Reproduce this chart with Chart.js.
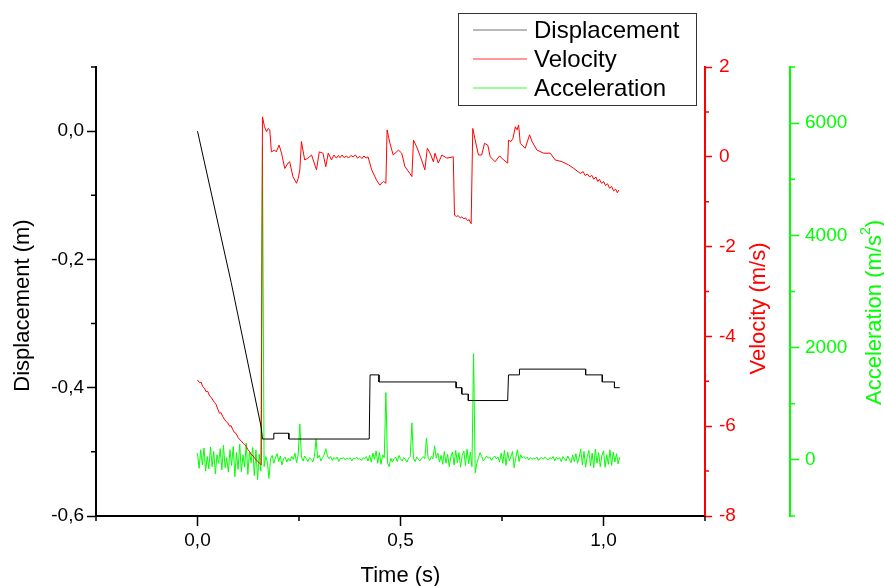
<!DOCTYPE html>
<html><head><meta charset="utf-8">
<script src="https://cdn.jsdelivr.net/npm/chart.js@4.4.1/dist/chart.umd.min.js"></script>
<style>html,body{margin:0;padding:0;background:#fff;}canvas{display:block;}</style>
</head><body>
<canvas id="c" width="884" height="586"></canvas>
<script>
const seriesNames = ['Displacement', 'Velocity', 'Acceleration'];
const axisTitles = ['Time (s)', 'Displacement (m)', 'Velocity (m/s)', 'Acceleration (m/s', '2', ')'];

// Displacement (m)
const dispTime = [0.000, 0.083, 0.157, 0.160, 0.188, 0.188, 0.225, 0.225, 0.423, 0.425, 0.447, 0.447, 0.637, 0.637, 0.651, 0.651, 0.667, 0.667, 0.764, 0.766, 0.793, 0.793, 0.956, 0.956, 0.997, 0.997, 1.027, 1.027, 1.040];
const dispValues = [0.000, -0.236, -0.462, -0.480, -0.480, -0.471, -0.471, -0.480, -0.480, -0.380, -0.380, -0.391, -0.391, -0.400, -0.400, -0.410, -0.410, -0.420, -0.420, -0.380, -0.380, -0.371, -0.371, -0.380, -0.380, -0.391, -0.391, -0.400, -0.400];

// Velocity (m/s)
const velTime = [0.000, 0.005, 0.009, 0.013, 0.017, 0.021, 0.025, 0.030, 0.034, 0.038, 0.042, 0.046, 0.050, 0.054, 0.058, 0.062, 0.066, 0.071, 0.075, 0.079, 0.083, 0.087, 0.091, 0.095, 0.100, 0.104, 0.108, 0.112, 0.116, 0.120, 0.124, 0.128, 0.133, 0.137, 0.141, 0.145, 0.149, 0.153, 0.157,
  0.160, 0.165, 0.170, 0.174, 0.178, 0.182, 0.190, 0.194, 0.201, 0.207, 0.215, 0.223, 0.227, 0.235, 0.244, 0.248, 0.252, 0.256, 0.264, 0.272, 0.281, 0.293, 0.300, 0.309, 0.316, 0.322, 0.330,
  0.336, 0.342, 0.347, 0.351, 0.356, 0.361, 0.367, 0.372, 0.378, 0.383, 0.389, 0.394, 0.400, 0.405, 0.410, 0.415, 0.420,
  0.429, 0.441, 0.449, 0.458, 0.464, 0.467, 0.474, 0.482, 0.495, 0.503, 0.511, 0.523, 0.528, 0.532, 0.540, 0.552, 0.560, 0.566, 0.573, 0.581, 0.585, 0.593, 0.602, 0.614, 0.630,
  0.633, 0.638, 0.642, 0.647, 0.651, 0.656, 0.660, 0.665, 0.669, 0.674,
  0.678, 0.684, 0.692, 0.700, 0.707, 0.715, 0.721, 0.733, 0.744, 0.754, 0.764, 0.766, 0.772, 0.777, 0.783, 0.787, 0.791, 0.795, 0.807, 0.818, 0.824, 0.836, 0.853, 0.869, 0.881, 0.898, 0.914, 0.927,
  0.943, 0.950, 0.955, 0.960, 0.966, 0.971, 0.976, 0.981, 0.986, 0.990, 0.995, 1.000, 1.005, 1.010, 1.015, 1.020, 1.025, 1.030, 1.034, 1.038];
const velValues = [-4.97, -5.03, -5.02, -5.12, -5.15, -5.23, -5.22, -5.33, -5.36, -5.42, -5.47, -5.52, -5.62, -5.71, -5.70, -5.78, -5.84, -5.90, -5.93, -6.00, -5.99, -6.08, -6.14, -6.16, -6.25, -6.30, -6.33, -6.38, -6.41, -6.45, -6.52, -6.56, -6.64, -6.66, -6.72, -6.75, -6.79, -6.83, -6.86,
  0.89, 0.67, 0.56, 0.63, 0.60, 0.11, 0.15, 0.11, 0.26, 0.08, -0.26, -0.14, -0.11, -0.44, -0.59, -0.48, -0.29, 0.34, -0.07, -0.03, 0.04, -0.29, 0.11, 0.08, -0.22, 0.08, -0.07,
  0.04, -0.03, 0.03, -0.02, 0.04, -0.02, 0.02, -0.03, 0.03, 0.00, 0.04, -0.03, 0.01, -0.04, 0.02, -0.03, 0.00,
  -0.29, -0.52, -0.63, -0.55, -0.59, 0.60, 0.30, 0.04, 0.15, 0.08, -0.22, -0.37, -0.44, 0.37, 0.22, -0.07, -0.29, 0.19, 0.08, -0.11, 0.08, -0.14, 0.04, -0.03, 0.00,
  -1.30, -1.33, -1.31, -1.36, -1.34, -1.38, -1.36, -1.42, -1.40, -1.49,
  0.63, 0.37, 0.04, 0.04, 0.30, 0.26, 0.00, -0.11, 0.02, -0.07, -0.14, 0.37, 0.34, 0.41, 0.67, 0.60, 0.71, 0.30, 0.19, 0.49, 0.34, 0.15, 0.08, 0.08, -0.07, -0.11, -0.18, -0.26,
  -0.37, -0.33, -0.42, -0.38, -0.45, -0.41, -0.50, -0.45, -0.55, -0.50, -0.59, -0.55, -0.64, -0.60, -0.70, -0.66, -0.76, -0.72, -0.80, -0.74];

// Acceleration (m/s^2), sampled every accStep seconds from accStart
const accStart = 0.0;
const accStep = 0.004;
const accValues = [
  120, -150, 180, -90, 210, -200, 60, -160, 230, -120,
  150, -250, 90, -60, 200, -180, 260, -140, 40, -220,
  180, -100, 240, -300, 130, -170, 280, -210, 90, -130,
  300, -260, 150, -50, 220, -280, 180, -350, 100, -200,
  5600, -120, 60, -40, -330, 20, 80, -60, 40, 110,
  -30, 70, -90, 20, 50, -40, 30, -20, 60, 10,
  120, -50, 90, 640, 50, -20, 70, 20, -30, 40,
  10, -40, 60, 370, 30, 80, -20, 40, 90, 200,
  70, 20, 60, -10, 40, 10, 50, -30, 30, 20,
  40, 0, 30, 10, 40, -20, 30, 20, 50, 10,
  20, -10, 40, 20, 60, -20, 80, -40, 120, 10,
  160, -60, 130, -80, 90, 40, 1200, -60, -120, 30,
  -40, 20, 50, -30, 80, 20, -20, 40, 10, -40,
  30, 60, 660, 20, -30, 50, 10, -20, 30, 60,
  20, 390, 40, -10, 60, 20, 250, 30, 120, -40,
  80, -80, 150, -60, 100, -120, 60, 140, -90, 170,
  -50, 130, -130, 80, 160, -100, 190, -70, 140, -120,
  1890, -230, -60, 40, 130, 60, -20, 20, 70, 30,
  50, -10, 40, 70, 20, 50, -40, 120, -60, 170,
  -100, 140, -20, 60, 150, -140, 40, 180, -30, 90,
  30, 60, 20, 50, 0, 40, 10, 30, 20, 50,
  -10, 30, 40, 10, 50, 20, 0, 40, 20, 60,
  -20, 50, 10, 40, -30, 60, 20, -20, 70, 10,
  -50, 90, -30, 110, -60, 40, 190, -90, 150, -130,
  60, 170, -110, 120, -140, 190, -60, 130, -120, 80,
  160, -130, 90, -80, 180, -100, 140, -40, 110, -70,
  50];

// Axis ticks
const xMajor = [0, 0.5, 1.0];
const xMinor = [-0.25, 0.25, 0.75, 1.25];
const dispMajor = [-0.6, -0.4, -0.2, 0.0];
const dispMinor = [-0.5, -0.3, -0.1, 0.1];
const velMajor = [-8, -6, -4, -2, 0, 2];
const velMinor = [-7, -5, -3, -1, 1];
const accMajor = [0, 2000, 4000, 6000];
const accMinor = [-1000, 1000, 3000, 5000, 7000];

const RED = '#ff0000', GREEN = '#00ff00', BLACK = '#000000';
const FONT = "'Liberation Sans', Arial, sans-serif";

const dispData = dispTime.map((t, i) => ({x: t, y: dispValues[i]}));
const velData = velTime.map((t, i) => ({x: t, y: velValues[i]}));
const accData = accValues.map((v, i) => ({x: +(accStart + i * accStep).toFixed(4), y: v}));

const comma = v => v.toFixed(1).replace('.', ',');
const setTicks = vals => scale => { scale.ticks = vals.slice().sort((a, b) => a - b).map(v => ({value: v})); };

const minorTickDefs = {
  x: {values: xMinor, len: 5, color: BLACK},
  y: {values: dispMinor, len: 5, color: BLACK},
  yv: {values: velMinor, len: 4, color: RED},
  ya: {values: accMinor, len: 5, color: GREEN}
};

const extrasPlugin = {
  id: 'extras',
  afterDraw(chart) {
    const ctx = chart.ctx;
    const ca = chart.chartArea;
    ctx.save();
    // minor ticks
    for (const id in minorTickDefs) {
      const d = minorTickDefs[id];
      const s = chart.scales[id];
      ctx.strokeStyle = d.color;
      ctx.lineWidth = 1.5;
      ctx.beginPath();
      for (const v of d.values) {
        const p = s.getPixelForValue(v);
        if (id === 'x') { ctx.moveTo(p, s.top); ctx.lineTo(p, s.top + d.len); }
        else if (id === 'y') { ctx.moveTo(s.right, p); ctx.lineTo(s.right - d.len, p); }
        else { ctx.moveTo(s.left, p); ctx.lineTo(s.left + d.len, p); }
      }
      ctx.stroke();
    }
    // axis titles
    const midY = (ca.top + ca.bottom) / 2;
    ctx.font = '22px ' + FONT;
    ctx.textBaseline = 'middle';
    ctx.textAlign = 'center';
    ctx.fillStyle = BLACK;
    ctx.fillText(axisTitles[0], (ca.left + ca.right) / 2, 576);
    const rot = (text, x, y, color) => {
      ctx.save(); ctx.translate(x, y); ctx.rotate(-Math.PI / 2);
      ctx.fillStyle = color; ctx.textAlign = 'center'; ctx.fillText(text, 0, 0); ctx.restore();
    };
    rot(axisTitles[1], 23, midY + 14, BLACK);
    rot(axisTitles[2], 759, midY + 17, RED);
    // acceleration with superscript
    ctx.save();
    ctx.translate(873, midY + 21);
    ctx.rotate(-Math.PI / 2);
    ctx.fillStyle = GREEN;
    ctx.textAlign = 'left';
    ctx.font = '22px ' + FONT;
    const w1 = ctx.measureText(axisTitles[3]).width;
    const w3 = ctx.measureText(axisTitles[5]).width;
    ctx.font = '14px ' + FONT;
    const w2 = ctx.measureText(axisTitles[4]).width;
    let x0 = -(w1 + w2 + w3) / 2;
    ctx.font = '22px ' + FONT;
    ctx.fillText(axisTitles[3], x0, 2);
    ctx.font = '14px ' + FONT;
    ctx.fillText(axisTitles[4], x0 + w1, -7);
    ctx.font = '22px ' + FONT;
    ctx.fillText(axisTitles[5], x0 + w1 + w2, 2);
    ctx.restore();
    // legend
    ctx.strokeStyle = '#333';
    ctx.lineWidth = 1;
    ctx.strokeRect(458.5, 13.5, 238, 92);
    const colors = [BLACK, RED, GREEN];
    const rows = [30, 59, 88];
    ctx.font = '24px ' + FONT;
    ctx.textAlign = 'left';
    ctx.textBaseline = 'middle';
    for (let i = 0; i < 3; i++) {
      ctx.strokeStyle = colors[i];
      ctx.globalAlpha = i === 0 ? 0.55 : 0.8;
      ctx.beginPath(); ctx.moveTo(473, rows[i]); ctx.lineTo(527, rows[i]); ctx.stroke();
      ctx.globalAlpha = 1;
      ctx.fillStyle = BLACK;
      ctx.fillText(seriesNames[i], 534, rows[i] + 1);
    }
    ctx.restore();
  }
};

const tickFont = {family: FONT, size: 19};

new Chart(document.getElementById('c'), {
  type: 'line',
  data: {
    datasets: [
      {label: seriesNames[0], data: dispData, yAxisID: 'y', borderColor: BLACK, borderWidth: 1, pointRadius: 0, tension: 0},
      {label: seriesNames[1], data: velData, yAxisID: 'yv', borderColor: RED, borderWidth: 1, pointRadius: 0, tension: 0},
      {label: seriesNames[2], data: accData, yAxisID: 'ya', borderColor: GREEN, borderWidth: 1, pointRadius: 0, tension: 0}
    ]
  },
  options: {
    responsive: false,
    animation: false,
    devicePixelRatio: 1,
    layout: {padding: {top: 67, left: 0, right: 0, bottom: 0}},
    plugins: {legend: {display: false}, tooltip: {enabled: false}},
    scales: {
      x: {
        type: 'linear', min: -0.25, max: 1.25,
        afterBuildTicks: setTicks(xMajor),
        afterFit: s => { s.height = 70; },
        border: {display: true, color: BLACK, width: 2},
        grid: {drawOnChartArea: false, tickLength: 10, tickWidth: 1.5, tickColor: BLACK},
        ticks: {color: BLACK, font: tickFont, padding: 3, autoSkip: false, maxRotation: 0, callback: v => comma(v)}
      },
      y: {
        type: 'linear', position: 'left', min: -0.6, max: 0.1,
        afterBuildTicks: setTicks(dispMajor),
        afterFit: s => { s.width = 96; },
        border: {display: true, color: BLACK, width: 2},
        grid: {drawOnChartArea: false, tickLength: 9, tickWidth: 1.5, tickColor: BLACK},
        ticks: {color: BLACK, font: tickFont, padding: 3, autoSkip: false, callback: v => comma(v)}
      },
      yv: {
        type: 'linear', position: 'right', weight: 0, min: -8, max: 2,
        afterBuildTicks: setTicks(velMajor),
        afterFit: s => { s.width = 85; },
        border: {display: true, color: RED, width: 2},
        grid: {drawOnChartArea: false, tickLength: 7, tickWidth: 1.5, tickColor: RED},
        ticks: {color: RED, font: tickFont, padding: 7, autoSkip: false, callback: v => String(v)}
      },
      ya: {
        type: 'linear', position: 'right', weight: 1, min: -1000, max: 7000,
        afterBuildTicks: setTicks(accMajor),
        afterFit: s => { s.width = 94; },
        border: {display: true, color: GREEN, width: 2},
        grid: {drawOnChartArea: false, tickLength: 9, tickWidth: 1.5, tickColor: GREEN},
        ticks: {color: GREEN, font: tickFont, padding: 6, autoSkip: false, callback: v => String(v)}
      }
    }
  },
  plugins: [extrasPlugin]
});
</script>
</body></html>
